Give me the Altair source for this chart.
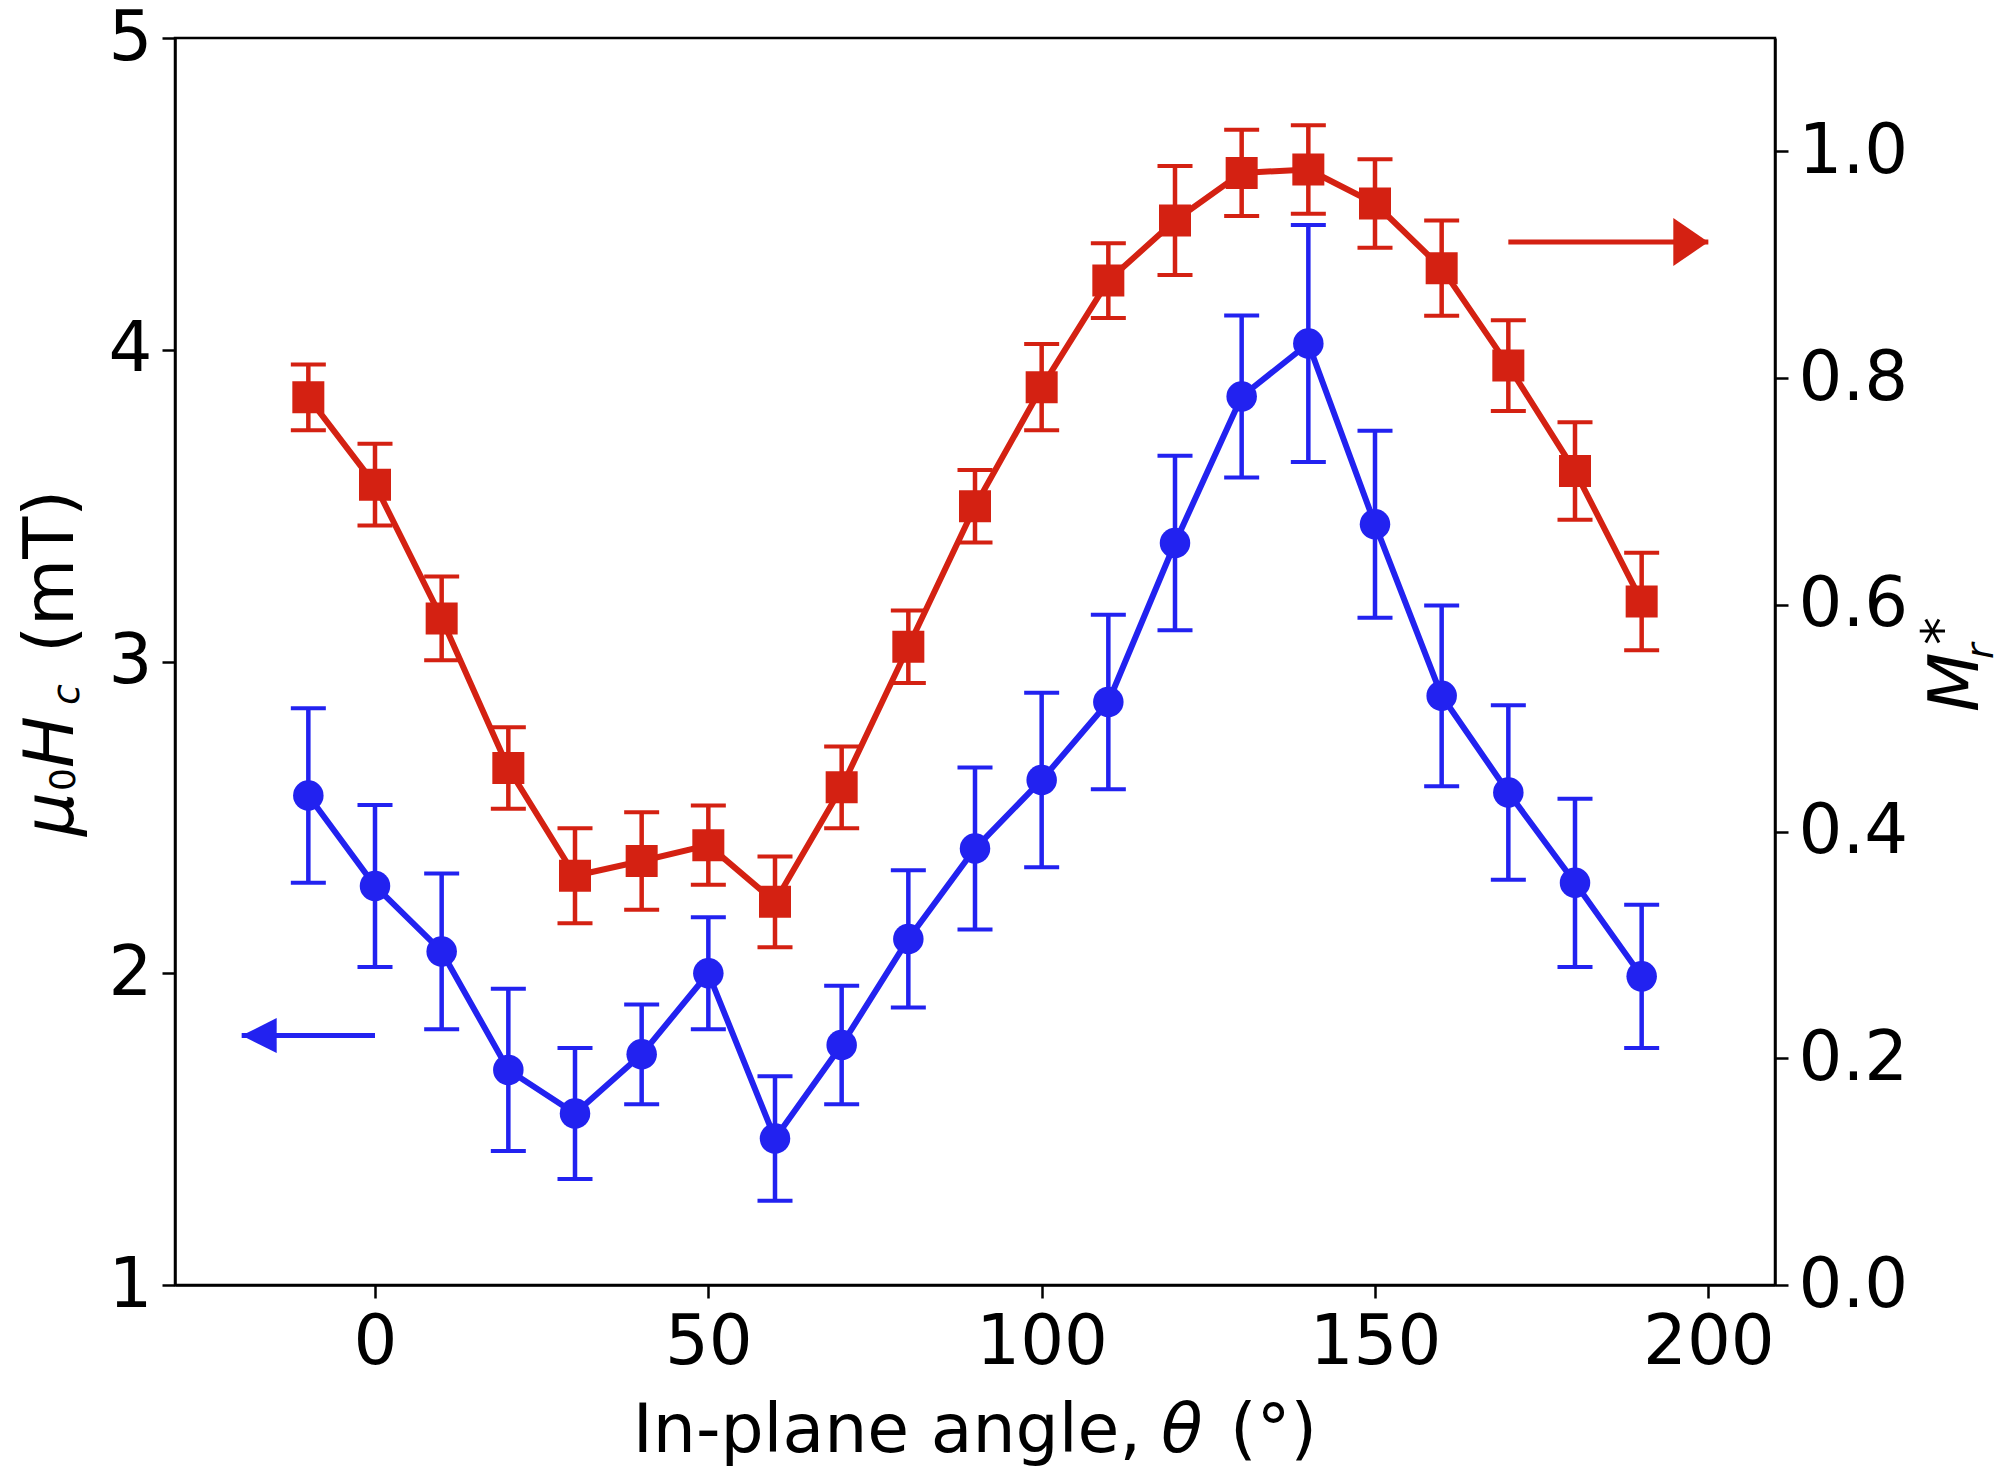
import altair as alt
import pandas as pd

# ---------------- data ----------------
angle = [-10, 0, 10, 20, 30, 40, 50, 60, 70, 80, 90, 100, 110, 120, 130, 140, 150, 160, 170, 180, 190]
hc = [2.57, 2.28, 2.07, 1.69, 1.55, 1.74, 2.00, 1.47, 1.77, 2.11, 2.40, 2.62, 2.87, 3.38, 3.85, 4.02, 3.44, 2.89, 2.58, 2.29, 1.99]
hc_err = [0.28, 0.26, 0.25, 0.26, 0.21, 0.16, 0.18, 0.20, 0.19, 0.22, 0.26, 0.28, 0.28, 0.28, 0.26, 0.38, 0.30, 0.29, 0.28, 0.27, 0.23]
mr = [0.783, 0.706, 0.588, 0.456, 0.361, 0.374, 0.388, 0.338, 0.439, 0.563, 0.687, 0.792, 0.886, 0.939, 0.981, 0.984, 0.954, 0.897, 0.811, 0.718, 0.603]
mr_err = [0.029, 0.036, 0.037, 0.036, 0.042, 0.043, 0.035, 0.040, 0.036, 0.032, 0.032, 0.038, 0.033, 0.048, 0.038, 0.039, 0.039, 0.042, 0.040, 0.043, 0.043]

x_ticks = [0, 50, 100, 150, 200]
left_ticks = [1, 2, 3, 4, 5]
right_ticks = [0.0, 0.2, 0.4, 0.6, 0.8, 1.0]

# arrows (data coordinates): tail, tip, level
blue_arrow = {"tail": [0], "tip": [-20], "y": [1.8]}
red_arrow = {"tail": [170], "tip": [200], "y": [0.92]}

BLUE = "#2222f0"
RED = "#d42112"
FONT = "DejaVu Sans"
FS = 69

df = pd.DataFrame({
    "angle": angle,
    "hc": hc,
    "hc_lo": [v - e for v, e in zip(hc, hc_err)],
    "hc_hi": [v + e for v, e in zip(hc, hc_err)],
    "mr": mr,
    "mr_lo": [v - e for v, e in zip(mr, mr_err)],
    "mr_hi": [v + e for v, e in zip(mr, mr_err)],
})

x_scale = alt.Scale(domain=[-30, 210], nice=False, zero=False)
yl_scale = alt.Scale(domain=[1, 5], nice=False, zero=False)
yr_scale = alt.Scale(domain=[0, 1.1], nice=False, zero=False)

x_axis = alt.Axis(values=x_ticks, format="d", title=None, grid=False, orient="bottom")
yl_axis = alt.Axis(values=left_ticks, format="d", title=None, grid=False, orient="left")
yr_axis = alt.Axis(values=right_ticks, format=".1f", title=None, grid=False, orient="right")


def X(field="angle"):
    return alt.X(f"{field}:Q", scale=x_scale, axis=x_axis)


def YL(field):
    return alt.Y(f"{field}:Q", scale=yl_scale, axis=yl_axis)


def YR(field):
    return alt.Y(f"{field}:Q", scale=yr_scale, axis=yr_axis)


base = alt.Chart(df)

# ---------------- blue series (left axis) ----------------
b_err = base.mark_rule(color=BLUE, strokeWidth=4.5).encode(x=X(), y=YL("hc_lo"), y2="hc_hi")
b_cap_lo = base.mark_tick(color=BLUE, orient="horizontal", size=35, thickness=4, opacity=1).encode(x=X(), y=YL("hc_lo"))
b_cap_hi = base.mark_tick(color=BLUE, orient="horizontal", size=35, thickness=4, opacity=1).encode(x=X(), y=YL("hc_hi"))
b_line = base.mark_line(color=BLUE, strokeWidth=6, strokeJoin="round").encode(x=X(), y=YL("hc"))
b_pts = base.mark_point(shape="circle", filled=True, size=930, color=BLUE, opacity=1, strokeWidth=0).encode(x=X(), y=YL("hc"))

ba = alt.Chart(pd.DataFrame(blue_arrow))
b_shaft = ba.mark_rule(color=BLUE, strokeWidth=5).encode(x=X("tail"), x2="tip:Q", y=YL("y"))
b_head = ba.mark_point(shape="M0,0L1,-0.5L1,0.5Z", filled=True, size=4900, color=BLUE,
                       opacity=1, strokeWidth=0).encode(x=X("tip"), y=YL("y"))

blue_layer = alt.layer(b_err, b_cap_lo, b_cap_hi, b_line, b_pts, b_shaft, b_head)

# ---------------- red series (right axis) ----------------
r_err = base.mark_rule(color=RED, strokeWidth=4.5).encode(x=X(), y=YR("mr_lo"), y2="mr_hi")
r_cap_lo = base.mark_tick(color=RED, orient="horizontal", size=35, thickness=4, opacity=1).encode(x=X(), y=YR("mr_lo"))
r_cap_hi = base.mark_tick(color=RED, orient="horizontal", size=35, thickness=4, opacity=1).encode(x=X(), y=YR("mr_hi"))
r_line = base.mark_line(color=RED, strokeWidth=6, strokeJoin="round").encode(x=X(), y=YR("mr"))
r_pts = base.mark_point(shape="square", filled=True, size=1024, color=RED, opacity=1, strokeWidth=0).encode(x=X(), y=YR("mr"))

ra = alt.Chart(pd.DataFrame(red_arrow))
r_shaft = ra.mark_rule(color=RED, strokeWidth=5).encode(x=X("tail"), x2="tip:Q", y=YR("y"))
r_head = ra.mark_point(shape="M0,0L-1,-0.686L-1,0.686Z", filled=True, size=4900, color=RED,
                       opacity=1, strokeWidth=0).encode(x=X("tip"), y=YR("y"))

red_layer = alt.layer(r_err, r_cap_lo, r_cap_hi, r_line, r_pts, r_shaft, r_head)

# ---------------- axis titles (math-style pieces as real text) ----------------
one = alt.Data(values=[{"k": 0}])


def piece(text, x, y, size=FS, italic=False, angle=0, align="left"):
    kw = dict(text=text, x=x, y=y, fontSize=size, font=FONT, color="black",
              align=align, baseline="alphabetic")
    if italic:
        kw["fontStyle"] = "italic"
    if angle:
        kw["angle"] = angle
    return alt.Chart(one).mark_text(**kw)


titles = [
    # x title: In-plane angle, θ (°)
    piece("In-plane angle,", 966, 1414, size=68, align="right"),
    piece("θ", 986, 1414, size=68, italic=True),
    piece("(°)", 1055, 1414, size=68),
    # left title: μ0 Hc (mT)
    piece("μ", -102, 798, italic=True, angle=270),
    piece("0", -100.5, 753, size=36, angle=270),
    piece("H", -102, 730, italic=True, angle=270),
    piece("c", -96.5, 667, size=38, italic=True, angle=270),
    piece("(mT)", -102, 615, angle=270),
    # right title: M_r^*
    piece("M", 1803, 674, italic=True, angle=270),
    piece("r", 1818, 621, size=38, italic=True, angle=270),
    piece("*", 1786, 607, size=56, angle=270),
]

chart = alt.layer(blue_layer, red_layer, *titles).resolve_scale(y="independent").properties(
    width=1600,
    height=1247,
    padding={"left": 167, "top": 30, "right": 229, "bottom": 184},
    autosize=alt.AutoSizeParams(type="none"),
    background="white",
).configure_view(
    stroke="black", strokeWidth=2.5
).configure_axis(
    labelFont=FONT,
    labelFontSize=FS,
    labelColor="black",
    labelPadding=10,
    tickColor="black",
    tickSize=13,
    tickWidth=2.5,
    domainColor="black",
    domainWidth=2.5,
    labelFlush=False,
    labelOverlap=False,
)

chart.save("out.html", embed_options={"renderer": "svg", "actions": False})
